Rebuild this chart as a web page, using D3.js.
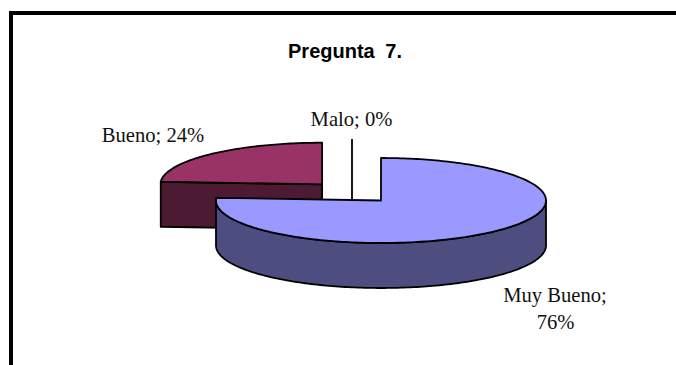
<!DOCTYPE html>
<html>
<head>
<meta charset="utf-8">
<script src="https://cdn.jsdelivr.net/npm/d3@7"></script>
<style>
  html, body { margin: 0; padding: 0; background: #fff; }
  svg { display: block; }
  .label { font-family: "Liberation Serif", serif; font-size: 20.6px; fill: #111; }
  .title { font-family: "Liberation Sans", sans-serif; font-size: 20px; font-weight: bold; fill: #000; word-spacing: 5px; }
</style>
</head>
<body>
<svg id="chart" width="676" height="365"></svg>
<script>
const categories = ["Muy Bueno", "Malo", "Bueno"];
const percents = [76, 0, 24];
const colors = ["#9999ff", "#ffffff", "#993366"];
const sideColors = ["#4d4d80", "#808080", "#4d1a33"];

const svg = d3.select("#chart");

// marco
svg.append("path")
  .attr("d", "M11,365V13H676")
  .attr("fill", "none")
  .attr("stroke", "#000")
  .attr("stroke-width", 4);

svg.append("text").attr("class", "title")
  .attr("x", 345).attr("y", 57.5)
  .attr("text-anchor", "middle")
  .text("Pregunta 7.");

// pastel 3D
const cx = 381, cy = 200.5, rx = 165, ry = 42.5, depth = 45, explode = 86;
const pie = d3.pie().sort(null).value(d => d).startAngle(0).endAngle(2 * Math.PI);
const slices = pie(percents);
const line = d3.line();

function arcPoints(a0, a1, o, dy) {
  const n = Math.max(2, Math.ceil(Math.abs(a1 - a0) / 0.02));
  return d3.range(n + 1).map(i => {
    const a = a0 + (a1 - a0) * i / n;
    return [o.x + o.rx * Math.sin(a), o.y - o.ry * Math.cos(a) + dy];
  });
}

function drawSlice(s) {
  const i = s.index;
  const mid = (s.startAngle + s.endAngle) / 2;
  // la rebanada desplazada se aleja del centro y queda algo mas chica
  const off = i === 2 ? explode : 0;
  const shrink = i === 2 ? 0.98 : 1;
  const o = {
    x: cx + off * Math.sin(mid),
    y: cy - off * (ry / rx) * Math.cos(mid),
    rx: rx * shrink,
    ry: ry * shrink
  };
  const g = svg.append("g")
    .attr("stroke", "#000")
    .attr("stroke-width", 1.8)
    .attr("stroke-linejoin", "round");

  // pared del corte, del vertice al borde izquierdo
  if (i === 2) {
    const [edge] = arcPoints(s.startAngle, s.startAngle, o, 0);
    g.append("path")
      .attr("d", line([[o.x, o.y], edge, [edge[0], edge[1] + depth], [o.x, o.y + depth]]) + "Z")
      .attr("fill", sideColors[i]);
  }

  // borde exterior frontal (parte baja de la elipse)
  const f0 = Math.max(s.startAngle, Math.PI / 2);
  const f1 = Math.min(s.endAngle, 3 * Math.PI / 2);
  if (f1 > f0) {
    const top = arcPoints(f0, f1, o, 0);
    const bottom = arcPoints(f1, f0, o, depth);
    g.append("path").attr("d", line(top.concat(bottom)) + "Z").attr("fill", sideColors[i]);
  }

  // cara superior
  const rim = arcPoints(s.startAngle, s.endAngle, o, 0);
  g.append("path").attr("d", line([[o.x, o.y]].concat(rim)) + "Z").attr("fill", colors[i]);
}

// se dibuja de atras hacia adelante
drawSlice(slices[2]);
drawSlice(slices[0]);

// linea guia de la rebanada de 0%
svg.append("line")
  .attr("x1", 352).attr("x2", 352)
  .attr("y1", 139).attr("y2", 200)
  .attr("stroke", "#000").attr("stroke-width", 1.8);

// etiquetas
const labelText = i => `${categories[i]}; ${percents[i]}%`;
svg.append("text").attr("class", "label").attr("x", 153).attr("y", 141.5)
  .attr("text-anchor", "middle").text(labelText(2));
svg.append("text").attr("class", "label").attr("x", 351.5).attr("y", 126)
  .attr("text-anchor", "middle").text(labelText(1));

const big = svg.append("text").attr("class", "label").attr("text-anchor", "middle");
big.append("tspan").attr("x", 555).attr("y", 302).text(`${categories[0]};`);
big.append("tspan").attr("x", 555.5).attr("y", 329).text(`${percents[0]}%`);
</script>
</body>
</html>
